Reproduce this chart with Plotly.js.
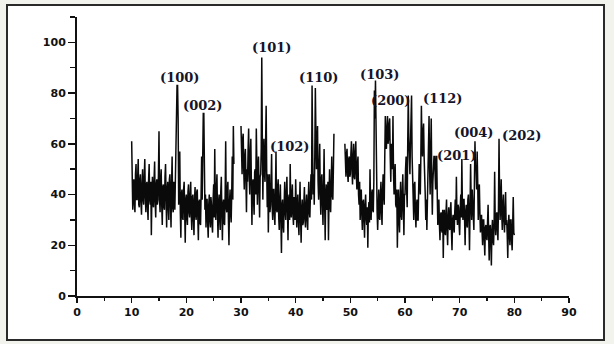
<!DOCTYPE html>
<html>
<head>
<meta charset="utf-8">
<script src="https://cdn.plot.ly/plotly-3.0.1.min.js"></script>
<style>
  html, body { margin: 0; padding: 0; background: #f3f3ee; width: 614px; height: 344px; overflow: hidden; }
  #frame { position: absolute; left: 6px; top: 4px; width: 599px; height: 337px; box-sizing: border-box; border: 2px solid #2a2a2a; background: #ffffff; }
  #chart { position: absolute; left: 0; top: 0; width: 614px; height: 344px; }
</style>
</head>
<body>
<div id="frame"></div>
<div id="chart"></div>
<script>
// XRD scan: 2-theta from 10 to 80 degrees, step 0.1; one row = one degree; null = no data recorded
const scanStart = 10;
const scanStep = 0.1;
const intensity = [
  61,40, 34,45, 46,36, 33,48, 52,38,   // 10
  38,47, 54,36, 35,46, 48,37, 32,44,   // 11
  50,38, 36,47, 54,39, 33,44, 45,35,   // 12
  30,46, 52,38, 36,45, 24,40, 47,36,   // 13
  35,46, 53,37, 31,44, 46,36, 38,48,   // 14
  65,38, 33,46, 50,36, 28,43, 44,35,   // 15
  34,47, 52,38, 27,42, 45,35, 30,46,   // 16
  48,36, 27,44, 55,35, 33,45, 42,34,   // 17
  52,60, 83,83, 83,70, 36,45, 57,33,   // 18
  23,40, 42,31, 30,42, 45,33, 21,38,   // 19
  40,31, 28,41, 44,33, 31,40, 45,32,   // 20
  26,39, 40,30, 24,38, 43,32, 30,41,   // 21
  42,31, 22,37, 38,29, 28,40, 55,38,   // 22
  72,72, 72,50, 34,40, 27,38, 38,29,   // 23
  23,36, 40,30, 27,39, 36,28, 25,38,   // 24
  44,31, 58,36, 30,42, 48,33, 23,37,   // 25
  40,30, 26,41, 47,32, 22,36, 38,29,   // 26
  28,40, 61,35, 33,42, 45,30, 20,37,   // 27
  42,33, 29,40, 55,38, 67,52, null,null, // 28
  null,null, null,null, null,null, null,null, null,null, // 29
  67,58, 48,62, 64,50, 42,55, 58,46,   // 30
  33,50, 45,58, 66,48, 40,56, 62,44,   // 31
  28,44, 46,38, 32,49, 50,40, 66,52,   // 32
  36,50, 55,42, 31,47, 48,58, 94,62,   // 33
  38,55, 62,48, 45,60, 75,50, 35,48,   // 34
  25,40, 48,33, 36,44, 56,35, 30,42,   // 35
  42,32, 28,40, 57,34, 33,43, 46,31,   // 36
  26,38, 44,30, 17,36, 38,28, 25,37,   // 37
  45,33, 30,41, 47,34, 22,38, 40,30,   // 38
  52,36, 31,40, 44,32, 28,39, 36,30,   // 39
  46,32, 27,37, 40,29, 24,36, 45,31,   // 40
  21,34, 38,28, 29,37, 43,30, 27,36,   // 41
  40,30, 26,38, 45,33, 31,40, 48,38,   // 42
  83,60, 40,48, 36,55, 82,65, 50,58,   // 43
  67,45, 38,50, 60,40, 32,46, 48,36,   // 44
  28,42, 58,37, 22,40, 44,34, 35,45,   // 45
  22,38, 50,36, 33,44, 55,40, 38,50,   // 46
  64,null, null,null, null,null, null,null, null,null, // 47
  null,null, null,null, null,null, null,null, null,null, // 48
  60,50, 47,56, 58,48, 45,54, 55,47,   // 49
  48,56, 61,50, 44,55, 60,47, 46,57,   // 50
  61,48, 42,52, 55,40, 36,45, 30,38,   // 51
  42,32, 26,37, 38,30, 23,36, 40,31,   // 52
  28,35, 19,33, 37,29, 50,36, 30,40,   // 53
  42,34, 33,45, 81,70, 85,55, 40,33,   // 54
  26,38, 42,31, 30,40, 45,33, 28,42,   // 55
  48,40, 36,55, 71,62, 58,66, 71,60,   // 56
  62,68, 70,55, 45,60, 58,50, 71,48,   // 57
  40,48, 52,36, 35,42, 19,33, 42,30,   // 58
  25,38, 45,32, 30,41, 48,35, 24,40,   // 59
  40,50, 55,42, 35,60, 79,62, 55,48,   // 60
  60,70, 79,55, 42,38, 30,44, 45,33,   // 61
  27,36, 38,30, 30,42, 52,45, 40,55,   // 62
  75,60, 55,65, 68,55, 50,40, 30,38,   // 63
  26,40, 48,55, 71,50, 40,58, 70,45,   // 64
  32,45, 55,55, 55,48, 42,55, 55,40,   // 65
  28,33, 38,28, 22,32, 33,26, 25,34,   // 66
  15,30, 34,25, 24,33, 38,26, 20,31,   // 67
  35,27, 26,34, 37,25, 18,30, 32,27,   // 68
  25,33, 38,30, 47,32, 28,36, 35,28,   // 69
  24,34, 40,31, 54,35, 30,38, 38,30,   // 70
  20,33, 36,28, 27,38, 40,30, 18,34,   // 71
  52,38, 30,42, 38,33, 26,45, 61,50,   // 72
  50,42, 57,45, 30,38, 44,33, 25,31,   // 73
  32,25, 20,30, 30,22, 16,27, 28,23,   // 74
  22,29, 36,24, 14,27, 28,21, 12,26,   // 75
  30,22, 20,28, 49,30, 24,32, 33,26,   // 76
  22,35, 62,40, 30,38, 46,32, 26,36,   // 77
  40,30, 25,33, 41,28, 30,24, 15,28,   // 78
  32,24, 20,30, 30,22, 18,28, 39,25,   // 79
  24                                   // 80
];
const twoTheta = intensity.map((_, i) => +(scanStart + i * scanStep).toFixed(2));

// Miller-index peak labels and where they are placed
const peakLabels = ['(100)', '(002)', '(101)', '(102)', '(110)', '(103)', '(200)', '(112)', '(201)', '(004)', '(202)'];
const labelX     = [18.7, 23.0, 35.5, 38.8, 44.1, 55.4, 57.3, 66.8, 69.5, 72.6, 81.4];
const labelY     = [86, 75.3, 97.8, 58.8, 86, 87.5, 76.9, 77.8, 55.3, 64.4, 63.1];

const xTickVals = [0, 10, 20, 30, 40, 50, 60, 70, 80, 90];
const yTickVals = [0, 20, 40, 60, 80, 100];

const trace = {
  x: twoTheta,
  y: intensity,
  type: 'scatter',
  mode: 'lines',
  connectgaps: false,
  line: { color: '#0a0a0a', width: 1.5 },
  hoverinfo: 'skip'
};

const tickFont = { family: 'DejaVu Sans, Arial, sans-serif', size: 11, color: '#111', weight: 'bold' };

const annotations = peakLabels.map((t, i) => ({
  x: labelX[i], y: labelY[i], xref: 'x', yref: 'y',
  text: '<b>' + t + '</b>', showarrow: false,
  font: { family: 'DejaVu Serif, Liberation Serif, serif', size: 13, color: '#14142a' }
}));

const layout = {
  width: 614, height: 344,
  margin: { l: 77, r: 45, t: 17, b: 48, pad: 0 },
  paper_bgcolor: 'rgba(0,0,0,0)',
  plot_bgcolor: 'rgba(0,0,0,0)',
  showlegend: false,
  xaxis: {
    range: [0, 90], tickvals: xTickVals, ticktext: xTickVals.map(String),
    showgrid: false, zeroline: false,
    showline: true, linecolor: '#111', linewidth: 2,
    ticks: 'outside', ticklen: 5, tickwidth: 1.5, tickcolor: '#111',
    minor: { dtick: 5, tick0: 0, ticks: 'outside', ticklen: 3, tickwidth: 1.5, tickcolor: '#111', showgrid: false },
    tickfont: tickFont
  },
  yaxis: {
    range: [0, 110], tickvals: yTickVals, ticktext: yTickVals.map(String),
    showgrid: false, zeroline: false,
    showline: true, linecolor: '#111', linewidth: 2,
    ticks: 'outside', ticklen: 7, tickwidth: 1.5, tickcolor: '#111',
    minor: { dtick: 10, tick0: 0, ticks: 'outside', ticklen: 5, tickwidth: 1.5, tickcolor: '#111', showgrid: false },
    tickfont: tickFont
  },
  annotations: annotations
};

Plotly.newPlot('chart', [trace], layout, { displayModeBar: false, staticPlot: true });
</script>
</body>
</html>
